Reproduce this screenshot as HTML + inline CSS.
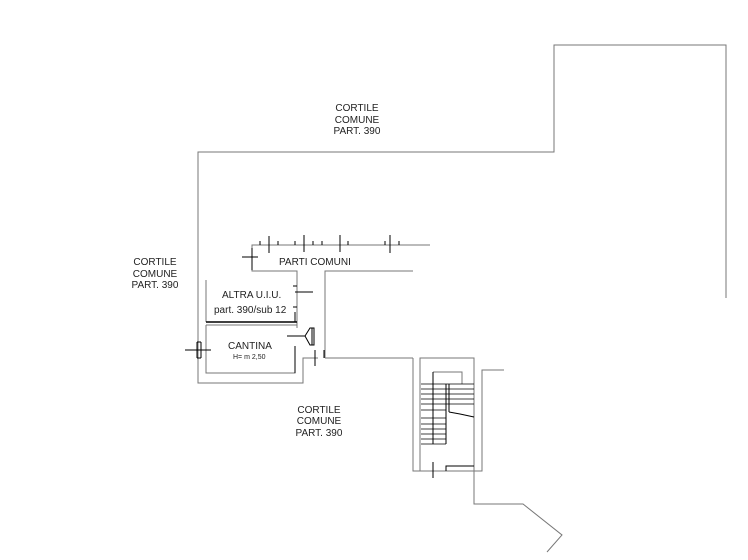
<!DOCTYPE html>
<html><head><meta charset="utf-8"><style>
html,body{margin:0;padding:0;background:#fff;}
svg{display:block;}
text{font-family:"Liberation Sans",sans-serif;font-size:10px;fill:#222;}
</style></head><body>
<svg width="748" height="560" viewBox="0 0 748 560" xmlns="http://www.w3.org/2000/svg">
<g fill="none" stroke="#777" stroke-width="1">
<!-- outer boundary -->
<polyline points="726,298 726,45 554,45 554,152 198,152 198,383 303,383 303,358 318,358"/>
<polyline points="325,358 413,358"/>
<polyline points="325,358 325,271 413,271"/>
<!-- corridor -->
<polyline points="430,245 252,245 252,271 297,271 297,328"/>
<polyline points="206,280 206,322"/>
<polyline points="206,325 297,325"/>
<polyline points="206,325 206,373 295,373 295,346"/>
<!-- stair box -->
<polyline points="413,358 413,471 482,471 482,370 504,370"/>
<polyline points="420,471 420,358 474,358 474,471"/>
<polyline points="474,471 474,504 523,504 562,535 547,552"/>
<polyline points="433,372 462,372 462,384"/>
</g>
<g fill="none" stroke="#000" stroke-width="1">
<line x1="206" y1="322" x2="297" y2="322" stroke-width="1.5"/>
<line x1="295" y1="292" x2="313" y2="292"/>
<line x1="293" y1="286" x2="297" y2="286"/>
<line x1="293" y1="307" x2="297" y2="307"/>
<line x1="295" y1="312" x2="295" y2="322"/>
<!-- ticks corridor -->
<line x1="269" y1="236" x2="269" y2="253"/>
<line x1="304" y1="235" x2="304" y2="252"/>
<line x1="340" y1="235" x2="340" y2="252"/>
<line x1="390" y1="235" x2="390" y2="253"/>
<line x1="260" y1="241" x2="260" y2="245"/><line x1="278" y1="241" x2="278" y2="245"/>
<line x1="295" y1="241" x2="295" y2="245"/><line x1="313" y1="241" x2="313" y2="245"/>
<line x1="322" y1="241" x2="322" y2="245"/><line x1="348" y1="241" x2="348" y2="245"/>
<line x1="385" y1="241" x2="385" y2="245"/><line x1="399" y1="241" x2="399" y2="245"/>
<line x1="242" y1="257" x2="258" y2="257"/><line x1="252" y1="248" x2="252" y2="270"/>
<!-- cantina left tick -->
<line x1="185" y1="350" x2="211" y2="350"/>
<line x1="197" y1="342" x2="197" y2="358"/><line x1="201" y1="342" x2="201" y2="358"/>
<line x1="197" y1="342" x2="201" y2="342"/><line x1="197" y1="358" x2="201" y2="358"/>
<!-- door cantina -->
<line x1="287" y1="336" x2="305" y2="336"/>
<polygon points="305,336 310,328 314,328 314,345 310,345"/>
<line x1="312" y1="328" x2="312" y2="345"/>
<line x1="315" y1="350" x2="315" y2="366"/>
<line x1="324" y1="350" x2="324" y2="358"/>
<line x1="295" y1="346" x2="295" y2="373"/>
<!-- stairs -->
<g stroke-width="0.8">
<line x1="421" y1="384" x2="474" y2="384"/>
<line x1="421" y1="389" x2="474" y2="389"/>
<line x1="421" y1="394" x2="474" y2="394"/>
<line x1="421" y1="399" x2="474" y2="399"/>
<line x1="421" y1="404" x2="474" y2="404"/>
<line x1="421" y1="410" x2="446" y2="410"/>
<line x1="421" y1="418" x2="446" y2="418"/>
<line x1="421" y1="424" x2="446" y2="424"/>
<line x1="421" y1="429" x2="446" y2="429"/>
<line x1="421" y1="434" x2="446" y2="434"/>
<line x1="421" y1="439" x2="446" y2="439"/>
<line x1="421" y1="444" x2="446" y2="444"/>
</g>
<line x1="433" y1="372" x2="433" y2="444"/>
<line x1="446" y1="384" x2="446" y2="444"/>
<line x1="449" y1="384" x2="449" y2="412"/>
<polyline points="449,412 460,414 474,417"/>
<polyline points="446,471 446,466 474,466"/>
<line x1="433" y1="462" x2="433" y2="478"/>
</g>
<text x="357" y="111" text-anchor="middle">CORTILE</text>
<text x="357" y="123" text-anchor="middle">COMUNE</text>
<text x="357" y="134" text-anchor="middle">PART. 390</text>
<text x="155" y="265" text-anchor="middle">CORTILE</text>
<text x="155" y="277" text-anchor="middle">COMUNE</text>
<text x="155" y="288" text-anchor="middle">PART. 390</text>
<text x="319" y="413" text-anchor="middle">CORTILE</text>
<text x="319" y="424" text-anchor="middle">COMUNE</text>
<text x="319" y="436" text-anchor="middle">PART. 390</text>
<text x="279" y="265">PARTI COMUNI</text>
<text x="222" y="298">ALTRA U.I.U.</text>
<text x="214" y="313">part. 390/sub 12</text>
<text x="228" y="349">CANTINA</text>
<text x="233" y="359" style="font-size:7px">H= m 2,50</text>
</svg>
</body></html>
